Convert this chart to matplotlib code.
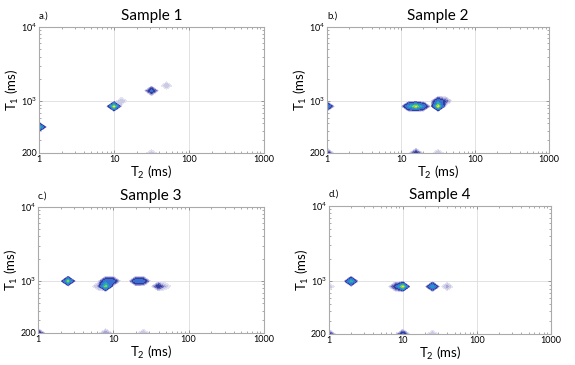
import numpy as np
import matplotlib
matplotlib.use("Agg")
import matplotlib.pyplot as plt

plt.rcParams['font.family'] = ['Lato', 'DejaVu Sans']
plt.rcParams['mathtext.fontset'] = 'custom'
plt.rcParams['mathtext.rm'] = 'Lato'

# peak list per sample: T2 (ms), T1 (ms), relative amplitude
s1_t2 = [1, 10, 12.6, 32, 50, 35]
s1_t1 = [460, 800, 950, 1370, 1600, 200]
s1_amp = [0.85, 1.0, 0.1, 0.4, 0.1, 0.08]

s2_t2 = [1, 12.6, 16, 20, 32, 32, 40, 1, 16, 32]
s2_t1 = [900, 900, 900, 900, 850, 1000, 1000, 200, 200, 200]
s2_amp = [0.6, 0.6, 1.0, 0.5, 1.0, 0.5, 0.2, 0.3, 0.3, 0.1]

s3_t2 = [2.5, 6.3, 8, 8, 10, 20, 25, 40, 50, 1, 8, 25]
s3_t1 = [1070, 850, 850, 1000, 1000, 1000, 1000, 850, 850, 200, 200, 200]
s3_amp = [0.85, 0.12, 0.9, 0.45, 0.4, 0.45, 0.4, 0.3, 0.08, 0.35, 0.15, 0.1]

s4_t2 = [1, 2, 8, 10, 25, 40, 1, 10, 25]
s4_t1 = [870, 1000, 870, 870, 870, 870, 200, 200, 200]
s4_amp = [0.1, 0.75, 0.3, 1.0, 0.65, 0.12, 0.3, 0.35, 0.1]

titles = ['Sample 1', 'Sample 2', 'Sample 3', 'Sample 4']
letters = ['a.)', 'b.)', 'c.)', 'd.)']

levels = [0.03, 0.06, 0.1, 0.15, 0.22, 0.32, 0.5, 0.65, 0.8, 0.95, 1.1]
colors = ['#e4e3f2', '#cccbe6', '#a8a5d8', '#6a68c0', '#2e3f9c',
          '#3b6fd2', '#2294d0', '#27b4a4', '#90cc4c', '#ece23a']

# coarse inversion grid in log10 space
xg = np.round(np.arange(0, 3.01, 0.1), 3)
yg = np.round(np.arange(2.3, 4.06, 0.07), 3)

samples = [(s1_t2, s1_t1, s1_amp), (s2_t2, s2_t1, s2_amp),
           (s3_t2, s3_t1, s3_amp), (s4_t2, s4_t1, s4_amp)]

positions = [[0.068, 0.581, 0.391, 0.345],
             [0.569, 0.581, 0.386, 0.345],
             [0.066, 0.088, 0.393, 0.345],
             [0.572, 0.085, 0.386, 0.351]]

fig = plt.figure(figsize=(5.75, 3.65), dpi=100)

for k, (t2, t1, amp) in enumerate(samples):
    ax = fig.add_axes(positions[k])
    Z = np.zeros((len(yg), len(xg)))
    for a, b, v in zip(t2, t1, amp):
        i = np.argmin(np.abs(xg - np.log10(a)))
        j = np.argmin(np.abs(yg - np.log10(b)))
        Z[j, i] = max(Z[j, i], v)
    ax.contourf(xg, yg, Z, levels=levels, colors=colors)

    ax.set_xlim(0, 3)
    ax.set_ylim(np.log10(200), 4)
    ax.set_xticks([0, 1, 2, 3])
    ax.set_xticklabels(['1', '10', '100', '1000'])
    ax.set_yticks([np.log10(200), 3, 4])
    ax.set_yticklabels(['200', '10$^3$', '10$^4$'])
    minor_x = [d + np.log10(m) for d in range(3) for m in range(2, 10)]
    minor_y = [np.log10(m) for m in range(300, 1000, 100)] + [3 + np.log10(m) for m in range(2, 10)]
    ax.set_xticks(minor_x, minor=True)
    ax.set_yticks(minor_y, minor=True)
    ax.tick_params(which='both', direction='in', top=True, right=True,
                   color='#888888', labelsize=6.5, pad=1.5)
    ax.tick_params(which='major', length=2.5, width=0.6)
    ax.tick_params(which='minor', length=1.5, width=0.5)
    for sp in ax.spines.values():
        sp.set_color('#aaaaaa')
        sp.set_linewidth(0.8)
    ax.grid(True, which='major', color='#dddddd', linewidth=0.6)
    ax.set_axisbelow(True)

    ax.set_xlabel('T$_2$ (ms)', fontsize=9.5, labelpad=0)
    ax.set_ylabel('T$_1$ (ms)', fontsize=9.5, labelpad=0)
    ax.set_title(titles[k], fontsize=11, pad=5)
    ax.text(0.0, 1.09, letters[k], transform=ax.transAxes, fontsize=7,
            ha='left', va='center')

fig.savefig('out.png', dpi=100)
